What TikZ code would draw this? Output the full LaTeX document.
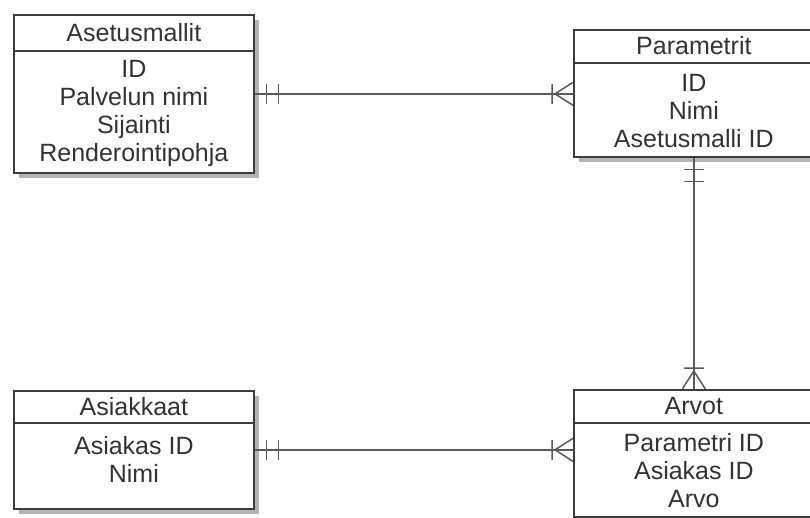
\documentclass[tikz,border=0pt]{standalone}
\usepackage{fontspec}
\setmainfont{Liberation Sans}
\usetikzlibrary{calc,shadows}
\definecolor{boxline}{HTML}{3C3C3C}
\definecolor{txt}{HTML}{333333}
\definecolor{linkcol}{HTML}{5A5A5A}
\definecolor{shadowcol}{HTML}{B4B4B4}
\tikzset{
	entity/.style={draw=boxline, line width=1.7pt, fill=white, minimum width=240pt, inner sep=0pt, anchor=north west,
		drop shadow={shadow xshift=5pt, shadow yshift=-5pt, fill=shadowcol, opacity=1}},
	title/.style={font=\fontsize{25}{28}\selectfont, text=txt, inner sep=0pt},
	attrs/.style={font=\fontsize{25}{28}\selectfont, text=txt, align=center, anchor=north, inner sep=0pt},
	link/.style={draw=linkcol, line width=1.5pt},
	pics/one/.style={code={\draw[link] (12,-10) -- (12,10) (24,-10) -- (24,10);}},
	pics/many/.style={code={\draw[link] (0,-11.5) -- (-18,0) -- (0,11.5) (-21,-10) -- (-21,10);}}
}
\begin{document}
\begin{tikzpicture}[x=1pt,y=-1pt]
	\useasboundingbox (0,0) rectangle (810,518);
	\clip (0,0) rectangle (810,518);
	% entities
	\node[entity, minimum height=158pt] (asetus) at (13,14) {};
	\node[entity, minimum height=127pt] (param) at (573,29) {};
	\node[entity, minimum height=118pt] (asiak) at (13,390) {};
	\node[entity, minimum height=127pt] (arvot) at (573,389) {};
	% titles
	\node[title] (asetusT) at ($(asetus.north)+(0,18.5)$) {Asetusmallit};
	\node[title] (paramT) at ($(param.north)+(0,17)$) {Parametrit};
	\node[title] (asiakT) at ($(asiak.north)+(0,16.5)$) {Asiakkaat};
	\node[title] (arvotT) at ($(arvot.north)+(0,17)$) {Arvot};
	\draw[boxline, line width=1.7pt] ($(asetus.north west)+(0,37)$) -- ($(asetus.north east)+(0,37)$);
	\draw[boxline, line width=1.7pt] ($(param.north west)+(0,34)$) -- ($(param.north east)+(0,34)$);
	\draw[boxline, line width=1.7pt] ($(asiak.north west)+(0,33)$) -- ($(asiak.north east)+(0,33)$);
	\draw[boxline, line width=1.7pt] ($(arvot.north west)+(0,34)$) -- ($(arvot.north east)+(0,34)$);
	% attributes
	\node[attrs] (asetusA) at ($(asetus.north)+(0,46)$) {ID\\Palvelun nimi\\Sijainti\\Renderointipohja};
	\node[attrs] (paramA) at ($(param.north)+(0,45)$) {ID\\Nimi\\Asetusmalli ID};
	\node[attrs] (asiakA) at ($(asiak.north)+(0,46)$) {Asiakas ID\\Nimi};
	\node[attrs] (arvotA) at ($(arvot.north)+(0,44)$) {Parametri ID\\Asiakas ID\\Arvo};
	% relations
	\draw[link] (asetus.east) -- (asetus.east -| param.west);
	\pic at (asetus.east) {one};
	\pic at (asetus.east -| param.west) {many};
	\draw[link] (param.south) -- (arvot.north);
	\pic[rotate=-90] at (param.south) {one};
	\pic[rotate=-90] at (arvot.north) {many};
	\draw[link] (asiak.east) -- (asiak.east -| arvot.west);
	\pic at (asiak.east) {one};
	\pic at (asiak.east -| arvot.west) {many};
\end{tikzpicture}
\end{document}
